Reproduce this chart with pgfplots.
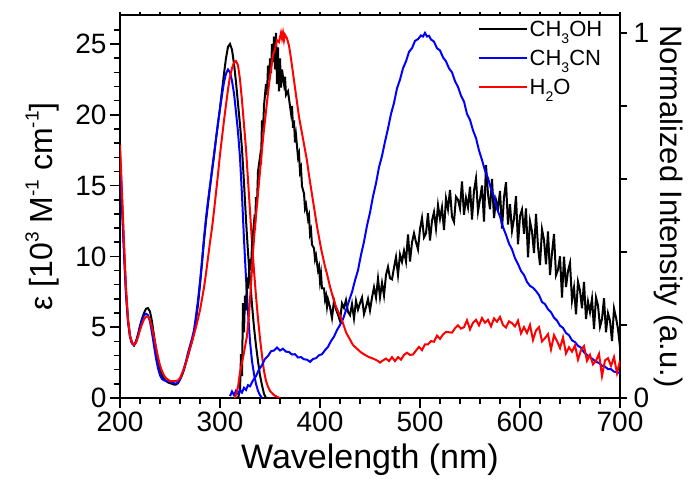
\documentclass[border=0pt]{standalone}
\usepackage{fontspec}
\setmainfont{Liberation Sans}
\usepackage{pgfplots}
\pgfplotsset{compat=1.18}
\newcommand{\sups}[1]{\raisebox{0.45em}{\fontsize{19}{19}\selectfont #1}}
\newcommand{\subs}[1]{\raisebox{-0.32em}{\fontsize{14}{14}\selectfont #1}}
\pgfplotsset{
  every tick/.style={black, line width=1.3pt},
  tick align=outside,
  major tick length=10pt, minor tick length=6pt,
}
\tikzset{tk/.style={line width=1.5pt, black}}
\begin{document}
\begin{tikzpicture}
\pgfplotsset{
  base/.style={
    at={(0pt,0pt)}, anchor=south west,
    scale only axis, width=500pt, height=383pt,
    xmin=200, xmax=700,
    axis line style={line width=1.3pt, -},
    /pgf/number format/assume math mode=true,
    ticklabel style={font=\fontsize{28}{30}\selectfont},
  }
}
\begin{axis}[base,
  axis x line*=bottom, axis y line*=left,
  ymin=0, ymax=27.05,
  xtick={200,300,...,700}, minor x tick num=4,
  ytick={0,5,...,25}, minor y tick num=4,
  xlabel={Wavelength (nm)},
  ylabel={ε [10\sups{3} M\sups{-1} cm\sups{-1}]},
  every axis x label/.style={at={(axis description cs:0.5,-0.183)}, anchor=base, font=\fontsize{34}{36}\selectfont},
  every axis y label/.style={at={(axis description cs:-0.134,0.5)}, rotate=90, anchor=base, font=\fontsize{32}{34}\selectfont},
]
\addplot[black, line width=2pt] coordinates {(200,17.3)(202,14.0)(204,10.5)(206,7.5)(208,5.5)(210,4.4)(212,3.9)(214,3.75)(216,4.0)(218,4.5)(220,5.1)(222,5.6)(224,6.0)(226,6.3)(228,6.35)(230,6.1)(232,5.4)(234,4.4)(236,3.4)(238,2.6)(240,2.0)(242,1.6)(244,1.35)(246,1.2)(248,1.1)(250,1.05)(252,1.0)(254,0.95)(256,0.95)(258,1.05)(260,1.3)(262,1.6)(264,2.0)(266,2.5)(268,3.0)(270,3.5)(272,4.0)(274,4.6)(276,5.5)(278,6.6)(280,8.0)(282,9.5)(284,11.1)(286,12.5)(288,13.7)(290,14.9)(292,16.0)(294,17.1)(296,18.3)(298,19.4)(300,20.5)(302,21.7)(304,22.9)(306,24.0)(308,24.8)(310,25.0)(312,24.6)(314,23.6)(316,22.3)(318,20.8)(320,19.3)(322,17.6)(324,15.2)(326,12.6)(328,10.3)(330,8.4)(332,6.6)(334,5.0)(336,3.7)(338,2.6)(340,1.6)(342,0.9)(344,0.3)(346,0)};
\addplot[blue, line width=2pt] coordinates {(200,16.5)(202,13.4)(204,10.2)(206,7.3)(208,5.4)(210,4.3)(212,3.85)(214,3.7)(216,3.95)(218,4.4)(220,5.0)(222,5.5)(224,5.85)(226,5.95)(228,5.85)(230,5.4)(232,4.6)(234,3.7)(236,2.8)(238,2.1)(240,1.6)(242,1.35)(244,1.25)(246,1.2)(248,1.2)(250,1.15)(252,1.1)(254,1.05)(256,1.0)(258,1.1)(260,1.35)(262,1.7)(264,2.1)(266,2.6)(268,3.2)(270,3.7)(272,4.2)(274,4.8)(276,5.8)(278,6.9)(280,8.2)(282,9.7)(284,11.3)(286,12.7)(288,13.9)(290,15.0)(292,16.1)(294,17.2)(296,18.3)(298,19.4)(300,20.4)(302,21.4)(304,22.3)(306,22.9)(308,23.2)(310,23.0)(312,22.4)(314,21.5)(316,20.2)(318,18.8)(320,17.0)(322,14.3)(324,11.2)(326,8.5)(328,6.1)(330,4.0)(332,2.6)(334,1.7)(336,1.0)(338,0.5)(340,0.2)(342,0)};
\addplot[red, line width=2pt] coordinates {(200,17.9)(202,14.5)(204,11.0)(206,7.8)(208,5.6)(210,4.4)(212,3.9)(214,3.75)(216,3.9)(218,4.3)(220,4.8)(222,5.2)(224,5.55)(226,5.75)(228,5.75)(230,5.5)(232,5.0)(234,4.3)(236,3.6)(238,2.9)(240,2.3)(242,1.9)(244,1.6)(246,1.4)(248,1.3)(250,1.2)(252,1.2)(254,1.2)(256,1.2)(258,1.25)(260,1.4)(262,1.7)(264,2.1)(266,2.5)(268,3.0)(270,3.5)(272,4.0)(274,4.5)(276,5.0)(278,5.6)(280,6.2)(282,7.0)(284,7.8)(286,8.8)(288,9.9)(290,11.0)(292,12.0)(294,13.2)(296,14.5)(298,15.8)(300,17.2)(302,18.4)(304,19.6)(306,20.7)(308,21.8)(310,22.7)(312,23.3)(314,23.7)(316,23.8)(318,23.5)(320,22.5)(322,21.0)(324,19.3)(326,17.6)(328,15.4)(330,13.2)(332,11.0)(334,9.0)(336,7.2)(338,5.6)(340,4.2)(342,3.0)(344,1.9)(346,1.2)(348,0.8)(350,0.5)(354,0.2)(358,0.05)(360,0)};
\end{axis}
\begin{axis}[base,
  axis x line*=top, axis y line*=right,
  ymin=0, ymax=1.049,
  xtick={200,220,...,700}, xticklabels={},
  x tick style={/pgfplots/major tick length=3pt},
  y tick style={/pgfplots/major tick length=7pt},
  ytick={0,0.2,0.4,0.6,0.8,1}, yticklabels={0,,,,,1},
  ylabel={Normalized Intensity (a.u.)},
  every axis y label/.style={at={(axis description cs:1.08,0.5)}, rotate=-90, anchor=base, font=\fontsize{31}{33}\selectfont},
  legend style={at={(axis description cs:0.715,0.99)}, anchor=north west, draw=none, fill=none,
    font=\fontsize{22}{24}\selectfont, row sep=8pt, inner sep=0pt, cells={anchor=west}},
  legend image code/.code={\draw[#1] (0pt,0pt) -- (48pt,0pt);},
]
\addplot[black, line width=2pt] coordinates {(318,0)(320,0.02)(321,0.12)(322,0.06)(323,0.26)(324,0.18)(325,0.28)(326,0.24)(327,0.33)(328,0.30)(330,0.38)(331,0.35)(332,0.42)(334,0.48)(335,0.46)(336,0.55)(337,0.53)(338,0.62)(340,0.66)(341,0.64)(342,0.76)(343,0.73)(344,0.80)(346,0.86)(347,0.83)(348,0.91)(349,0.87)(350,0.93)(351,0.89)(352,0.97)(353,0.92)(354,0.99)(355,0.90)(356,1.0)(357,0.86)(358,0.96)(359,0.84)(360,0.93)(361,0.85)(362,0.90)(364,0.86)(365,0.88)(366,0.83)(368,0.84)(370,0.80)(371,0.78)(372,0.80)(373,0.74)(374,0.76)(375,0.70)(376,0.72)(378,0.66)(379,0.67)(380,0.62)(381,0.63)(382,0.58)(384,0.56)(385,0.52)(386,0.53)(388,0.49)(389,0.50)(390,0.45)(391,0.46)(392,0.42)(394,0.41)(395,0.38)(396,0.39)(398,0.35)(399,0.36)(400,0.32)(401,0.34)(402,0.30)(404,0.30)(405,0.27)(406,0.28)(407,0.25)(408,0.27)
(410,0.249)(412,0.219)(414,0.267)(416,0.243)(418,0.228)(420,0.211)(422,0.259)(424,0.247)(426,0.268)(428,0.236)(430,0.227)(432,0.257)(434,0.218)(436,0.266)(438,0.242)(440,0.26)(442,0.275)(444,0.23)(446,0.249)(448,0.271)(450,0.24)(452,0.275)(454,0.303)(456,0.275)(458,0.327)(460,0.276)(462,0.315)(464,0.281)(466,0.337)(468,0.359)(470,0.328)(472,0.325)(474,0.357)(476,0.386)(478,0.337)(480,0.393)(482,0.373)(484,0.403)(486,0.374)(488,0.448)(490,0.374)(492,0.426)(494,0.451)(496,0.427)(498,0.407)(500,0.463)(502,0.493)(504,0.44)(506,0.451)(508,0.506)(510,0.431)(512,0.486)(514,0.509)(516,0.464)(518,0.528)(520,0.491)(522,0.522)(524,0.46)(526,0.546)(528,0.517)(530,0.57)(532,0.496)(534,0.482)(536,0.551)(538,0.543)(540,0.519)(542,0.593)(544,0.502)(546,0.548)(548,0.522)(550,0.579)(552,0.489)(554,0.568)(556,0.601)(558,0.511)(560,0.544)(562,0.582)(564,0.483)(566,0.638)(568,0.558)(570,0.517)(572,0.6)(574,0.493)(576,0.542)(578,0.519)(580,0.567)(582,0.464)(584,0.55)(586,0.591)(588,0.475)(590,0.531)(592,0.458)(594,0.491)(596,0.553)(598,0.421)(600,0.498)(602,0.516)(604,0.45)(606,0.519)(608,0.385)(610,0.484)(612,0.456)(614,0.397)(616,0.504)(618,0.415)(620,0.364)(622,0.462)(624,0.433)(626,0.366)(628,0.456)(630,0.337)(632,0.397)(634,0.449)(636,0.336)(638,0.351)(640,0.388)(642,0.275)(644,0.387)(646,0.304)(648,0.348)(650,0.37)(652,0.267)(654,0.302)(656,0.229)(658,0.318)(660,0.294)(662,0.246)(664,0.318)(666,0.216)(668,0.264)(670,0.235)(672,0.272)(674,0.189)(676,0.275)(678,0.253)(680,0.195)(682,0.216)(684,0.273)(686,0.18)(688,0.232)(690,0.212)(692,0.156)(694,0.245)(696,0.22)(698,0.189)(700,0.14)};
\addlegendentry{CH\subs{3}OH}
\addplot[blue, line width=2pt] coordinates {(310,0.005)(312,0.018)(314,0.008)(316,0.02)(318,0.012)(320,0.022)(322,0.015)(324,0.028)(326,0.022)(328,0.035)(330,0.032)(333,0.048)(336,0.06)(339,0.078)(342,0.09)(345,0.107)(348,0.115)(351,0.128)(354,0.13)(357,0.138)(360,0.13)(363,0.135)(366,0.127)(369,0.126)(372,0.119)(375,0.12)(378,0.111)(381,0.112)(384,0.106)(387,0.105)(390,0.099)(393,0.107)(396,0.109)(399,0.117)(402,0.12)(405,0.131)(408,0.14)(411,0.156)(414,0.168)(417,0.186)(420,0.2)(423,0.216)(426,0.24)(429,0.266)(432,0.29)(435,0.322)(438,0.35)(441,0.392)(444,0.428)(447,0.472)(450,0.508)(453,0.552)(456,0.588)(459,0.632)(462,0.663)(465,0.702)(468,0.738)(471,0.778)(474,0.808)(477,0.848)(480,0.872)(483,0.903)(486,0.922)(489,0.948)(492,0.958)(495,0.978)(498,0.983)(501,0.993)(503,0.99)(505,1.0)(507,0.99)(509,0.992)(511,0.982)(514,0.976)(517,0.958)(520,0.952)(523,0.933)(526,0.922)(529,0.903)(532,0.892)(535,0.868)(538,0.852)(541,0.828)(544,0.812)(547,0.778)(550,0.762)(553,0.733)(556,0.712)(559,0.678)(562,0.652)(565,0.623)(568,0.602)(571,0.573)(574,0.552)(577,0.518)(580,0.497)(583,0.468)(586,0.447)(589,0.423)(592,0.407)(595,0.383)(598,0.367)(601,0.348)(604,0.337)(607,0.318)(610,0.307)(613,0.302)(616,0.293)(619,0.282)(622,0.263)(625,0.257)(628,0.243)(631,0.235)(634,0.22)(637,0.212)(640,0.198)(643,0.192)(646,0.178)(649,0.172)(652,0.158)(655,0.153)(658,0.143)(661,0.138)(664,0.125)(667,0.118)(670,0.112)(673,0.106)(676,0.099)(679,0.096)(682,0.088)(685,0.086)(688,0.079)(691,0.079)(694,0.072)(697,0.071)(700,0.068)};
\addlegendentry{CH\subs{3}CN}
\addplot[red, line width=2pt] coordinates {(315,0)(318,0.03)(320,0.07)(323,0.11)(325,0.14)(327,0.17)(329,0.23)(331,0.31)(333,0.40)(335,0.47)(337,0.53)(339,0.59)(341,0.65)(343,0.71)(345,0.76)(347,0.81)(349,0.86)(351,0.90)(353,0.94)(355,0.955)(357,0.98)(359,0.975)(361,1.0)(362,0.985)(363,1.0)(364,0.98)(365,0.995)(367,0.985)(369,0.965)(371,0.93)(373,0.89)(375,0.85)(377,0.81)(379,0.77)(381,0.74)(383,0.71)(385,0.68)(387,0.65)(389,0.61)(391,0.575)(393,0.54)(395,0.505)(397,0.47)(399,0.44)(401,0.41)(403,0.385)(405,0.36)(407,0.34)(410,0.305)(413,0.275)(416,0.25)(420,0.225)(423,0.205)(426,0.18)(430,0.16)(433,0.145)(437,0.135)(441,0.125)(445,0.118)(449,0.112)(453,0.108)(457,0.103)(460,0.097)(463,0.103)(466,0.108)(469,0.101)(472,0.112)(475,0.101)(478,0.112)(481,0.105)(484,0.118)(487,0.124)(490,0.118)(493,0.119)(496,0.13)(499,0.14)(502,0.131)(505,0.147)(508,0.147)(511,0.156)(514,0.154)(517,0.171)(520,0.162)(523,0.174)(526,0.181)(529,0.18)(532,0.179)(535,0.191)(538,0.199)(541,0.19)(544,0.194)(547,0.213)(550,0.188)(553,0.206)(556,0.214)(559,0.199)(562,0.219)(565,0.206)(568,0.214)(571,0.196)(574,0.218)(577,0.209)(580,0.222)(583,0.2)(586,0.193)(589,0.21)(592,0.205)(595,0.196)(598,0.212)(601,0.177)(604,0.194)(607,0.178)(610,0.2)(613,0.159)(616,0.185)(619,0.194)(622,0.155)(625,0.164)(628,0.175)(631,0.133)(634,0.172)(637,0.156)(640,0.137)(643,0.166)(646,0.122)(649,0.139)(652,0.127)(655,0.144)(658,0.105)(661,0.131)(664,0.142)(667,0.102)(670,0.118)(673,0.092)(676,0.102)(679,0.121)(682,0.06)(685,0.103)(688,0.109)(691,0.088)(694,0.112)(697,0.068)(700,0.102)};
\addlegendentry{H\subs{2}O}
\end{axis}
% axis decorations (tick marks) drawn at picture level
\foreach \i in {0,...,26} {\draw[tk] (0pt,{\i*14.159pt}) -- ++(-6pt,0pt);}
\foreach \i in {0,5,...,25} {\draw[tk] (0pt,{\i*14.159pt}) -- ++(-10pt,0pt);}
\foreach \x in {0,20,...,500} {\draw[tk] (\x pt,0pt) -- ++(0pt,-6pt); \draw[tk] (\x pt,383pt) -- ++(0pt,3pt);}
\foreach \x in {0,100,...,500} {\draw[tk] (\x pt,0pt) -- ++(0pt,-10pt);}
\foreach \i in {0,...,5} {\draw[tk] (500pt,{\i*73.02pt}) -- ++(7pt,0pt);}
\pgfresetboundingbox
\path[use as bounding box] (-120pt,-81pt) rectangle (574pt,398pt);
\end{tikzpicture}
\end{document}
